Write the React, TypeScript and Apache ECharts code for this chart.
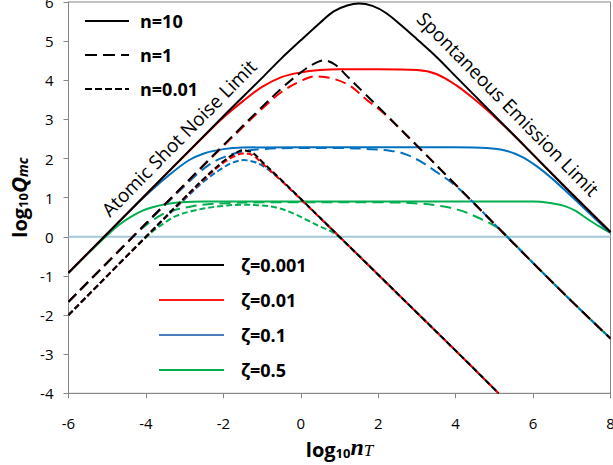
import React, { useEffect, useRef } from "react";
import * as echarts from "echarts";

// ---- axis ranges ----
const X_MIN = -6;
const X_MAX = 8;
const X_STEP = 2;
const Y_MIN = -4;
const Y_MAX = 6;
const Y_STEP = 1;

// ---- legend labels ----
const N_LABELS = ["n=10", "n=1", "n=0.01"];
const ZETA_LABELS = ["ζ=0.001", "ζ=0.01", "ζ=0.1", "ζ=0.5"];

// ---- curves: [log10 nT, log10 Qmc] ----
// n = 10 (solid)
const Z0001_N10 = [[-6,-0.92],[-4,1.08],[-2,3.08],[-1,4.06],[-0.5,4.56],[0,5.02],[0.5,5.47],[0.85,5.76],[1.2,5.91],[1.5,5.96],[1.85,5.9],[2.2,5.72],[2.6,5.4],[3,5.05],[3.5,4.6],[4,4.1],[5,3.1],[6,2.1],[7,1.1],[8,0.12]];
const Z001_N10 = [[-6,-0.92],[-4,1.08],[-2.5,2.57],[-2,3.05],[-1.5,3.46],[-1,3.83],[-0.5,4.08],[0,4.2],[0.5,4.26],[1,4.28],[2,4.28],[3,4.26],[3.5,4.16],[4,3.88],[4.5,3.5],[5,3.07],[5.5,2.6],[6,2.1],[7,1.1],[8,0.12]];
const Z01_N10 = [[-6,-0.92],[-4.5,0.58],[-3.9,1.15],[-3.4,1.58],[-2.9,1.95],[-2.5,2.13],[-2,2.24],[-1.5,2.28],[0,2.29],[4,2.29],[4.8,2.27],[5.3,2.2],[5.7,2.05],[6.1,1.8],[6.5,1.48],[6.9,1.12],[7.3,0.75],[7.7,0.37],[8,0.1]];
const Z05_N10 = [[-6,-0.92],[-5.5,-0.43],[-5,0.04],[-4.7,0.3],[-4.4,0.5],[-4.1,0.66],[-3.8,0.76],[-3.5,0.83],[-3.1,0.88],[-2.5,0.9],[6,0.9],[6.4,0.87],[6.8,0.79],[7.1,0.66],[7.4,0.46],[7.7,0.27],[8,0.1]];
// n = 1 (long dash)
const Z0001_N1 = [[-6,-1.66],[-4,0.34],[-2,2.34],[-1,3.32],[-0.5,3.79],[0,4.2],[0.3,4.4],[0.6,4.51],[0.9,4.39],[1.2,4.1],[1.6,3.71],[2,3.32],[3,2.33],[4,1.33],[5,0.33],[6,-0.67],[7,-1.65],[8,-2.6]];
const Z001_N1 = [[-6,-1.66],[-4,0.34],[-2,2.32],[-1.5,2.8],[-1,3.27],[-0.5,3.7],[0,3.98],[0.37,4.1],[0.8,4.05],[1.27,3.86],[1.7,3.5],[2.13,3.17],[2.5,2.82],[3,2.33],[4,1.33],[5,0.33],[6,-0.67],[7,-1.65],[8,-2.6]];
const Z01_N1 = [[-6,-1.66],[-4,0.33],[-3.5,0.82],[-3,1.3],[-2.7,1.58],[-2.4,1.82],[-2.1,1.99],[-1.6,2.16],[-1,2.24],[0,2.27],[1,2.27],[1.8,2.24],[2.3,2.2],[2.65,2.13],[3.05,1.95],[3.5,1.66],[3.9,1.38],[4.3,1.03],[5,0.33],[6,-0.67],[7,-1.65],[8,-2.6]];
const Z05_N1 = [[-6,-1.66],[-4.5,-0.17],[-4.2,0.13],[-3.9,0.37],[-3.6,0.56],[-3.3,0.67],[-2.8,0.78],[-2.4,0.83],[-1.9,0.86],[-1,0.88],[2,0.88],[3.05,0.85],[3.65,0.78],[4.1,0.68],[4.6,0.48],[5.05,0.25],[5.33,0.01],[6,-0.67],[7,-1.65],[8,-2.6]];
// n = 0.01 (short dash)
const Z0001_N001 = [[-6,-2.0],[-4,0.0],[-3,1.0],[-2.5,1.49],[-2,1.93],[-1.75,2.1],[-1.5,2.21],[-1.25,2.15],[-1,1.92],[-0.5,1.45],[0,0.97],[1,0.0],[2,-0.97],[3,-1.94],[4,-2.91],[5.11,-4.0]];
const Z001_N001 = [[-6,-2.0],[-4,0.0],[-3,0.99],[-2.5,1.47],[-2,1.89],[-1.75,2.04],[-1.5,2.13],[-1.25,2.09],[-1,1.88],[-0.5,1.43],[0,0.96],[1,0.0],[2,-0.97],[3,-1.94],[4,-2.91],[5.11,-4.0]];
const Z01_N001 = [[-6,-2.0],[-4,0.0],[-3,0.96],[-2.5,1.42],[-2,1.77],[-1.75,1.9],[-1.48,1.96],[-1.2,1.91],[-0.9,1.76],[-0.6,1.52],[-0.3,1.25],[0,0.96],[1,0.0],[2,-0.97],[3,-1.94],[4,-2.91],[5.11,-4.0]];
const Z05_N001 = [[-6,-2.0],[-4.3,-0.3],[-4,-0.02],[-3.8,0.16],[-3.5,0.37],[-3.2,0.54],[-2.8,0.66],[-2.4,0.74],[-2,0.79],[-1.5,0.82],[-1,0.8],[-0.6,0.74],[-0.2,0.6],[0.2,0.41],[0.5,0.26],[0.8,0.13],[1.05,-0.06],[2,-0.97],[3,-1.94],[4,-2.91],[5.11,-4.0]];
// reference line
const ZERO_LINE = [[-6,0],[8,0]];

const BLACK = "#000000";
const RED = "#ff0000";
const BLUE = "#0070c0";
const GREEN = "#00b050";
const LONG: number[] = [11, 6];
const SHORT: number[] = [6, 3];
const FONT = '"Open Sans", "Noto Sans", "DejaVu Sans", sans-serif';

function curve(name: string, data: number[][], color: string, dash: any, z: number) {
  return {
    name,
    type: "line",
    data,
    symbol: "none",
    showSymbol: false,
    smooth: 0.35,
    silent: true,
    z,
    lineStyle: { color, width: 2, type: dash },
  };
}

function legendSeries(name: string, color: string, dash: any) {
  return {
    name,
    type: "line",
    data: [],
    symbol: "none",
    showSymbol: false,
    silent: true,
    itemStyle: { color },
    lineStyle: { color, width: 2.5, type: dash },
  };
}

export default function App() {
  const ref = useRef<HTMLDivElement>(null);

  useEffect(() => {
    if (!ref.current) return;
    const chart = echarts.init(ref.current, undefined, { renderer: "svg" });

    const series: any[] = [
      {
        name: "zero",
        type: "line",
        data: ZERO_LINE,
        symbol: "none",
        silent: true,
        z: 1,
        lineStyle: { color: "#a2c8d8", width: 2 },
      },
      curve("ζ=0.5 n=0.01", Z05_N001, GREEN, SHORT, 2),
      curve("ζ=0.5 n=1", Z05_N1, GREEN, LONG, 2),
      curve("ζ=0.5 n=10", Z05_N10, GREEN, "solid", 2),
      curve("ζ=0.1 n=0.01", Z01_N001, BLUE, SHORT, 3),
      curve("ζ=0.1 n=1", Z01_N1, BLUE, LONG, 3),
      curve("ζ=0.1 n=10", Z01_N10, BLUE, "solid", 3),
      curve("ζ=0.01 n=0.01", Z001_N001, RED, SHORT, 4),
      curve("ζ=0.01 n=1", Z001_N1, RED, LONG, 4),
      curve("ζ=0.01 n=10", Z001_N10, RED, "solid", 4),
      curve("ζ=0.001 n=0.01", Z0001_N001, BLACK, SHORT, 5),
      curve("ζ=0.001 n=1", Z0001_N1, BLACK, LONG, 5),
      curve("ζ=0.001 n=10", Z0001_N10, BLACK, "solid", 5),
      legendSeries(N_LABELS[0], BLACK, "solid"),
      legendSeries(N_LABELS[1], BLACK, [12, 6]),
      legendSeries(N_LABELS[2], BLACK, [7, 3]),
      legendSeries(ZETA_LABELS[0], BLACK, "solid"),
      legendSeries(ZETA_LABELS[1], "#ff1a1a", "solid"),
      legendSeries(ZETA_LABELS[2], "#4a7ebb", "solid"),
      legendSeries(ZETA_LABELS[3], GREEN, "solid"),
    ];

    const legendText = {
      fontFamily: FONT,
      fontSize: 18,
      fontWeight: "bold",
      color: "#000",
      lineHeight: 18,
    };

    chart.setOption({
      animation: false,
      backgroundColor: "#ffffff",
      grid: {
        left: 68.5,
        right: 2.5,
        top: 2,
        bottom: 71.7,
        show: true,
        borderColor: "#868686",
        borderWidth: 1,
        backgroundColor: "transparent",
        outerBoundsMode: "none",
      },
      legend: [
        {
          data: N_LABELS,
          orient: "vertical",
          left: 84,
          top: 12,
          padding: 0,
          itemWidth: 44,
          itemHeight: 14,
          itemGap: 16,
          selectedMode: false,
          itemStyle: { opacity: 0 },
          textStyle: { ...legendText, padding: [0, 0, 0, 6] },
        },
        {
          data: ZETA_LABELS,
          orient: "vertical",
          left: 158,
          top: 256,
          padding: 0,
          itemWidth: 65,
          itemHeight: 14,
          itemGap: 17,
          selectedMode: false,
          itemStyle: { opacity: 0 },
          textStyle: { ...legendText, padding: [0, 0, 0, 12] },
        },
      ],
      xAxis: {
        type: "value",
        min: X_MIN,
        max: X_MAX,
        interval: X_STEP,
        name: "{a|log}{b|10}{n|n}{t|T}",
        nameLocation: "middle",
        nameGap: 46,
        nameTextStyle: {
          rich: {
            a: { fontFamily: FONT, fontSize: 20, fontWeight: "bold", color: "#000", lineHeight: 20, verticalAlign: "bottom" },
            b: { fontFamily: FONT, fontSize: 13, fontWeight: "bold", color: "#000", lineHeight: 6, verticalAlign: "bottom" },
            n: { fontFamily: '"Liberation Serif", "DejaVu Serif", serif', fontSize: 24, fontStyle: "italic", fontWeight: "bold", color: "#000", lineHeight: 20, verticalAlign: "bottom" },
            t: { fontFamily: '"Liberation Serif", "DejaVu Serif", serif', fontSize: 17, fontStyle: "italic", color: "#000", lineHeight: 8, verticalAlign: "bottom" },
          },
        },
        axisLine: { show: true, onZero: false, lineStyle: { color: "#868686", width: 1 } },
        axisTick: { show: true, inside: false, length: 5, lineStyle: { color: "#868686" } },
        splitLine: { show: false },
        axisLabel: { fontFamily: FONT, fontSize: 15, color: "#000", margin: 22 },
      },
      yAxis: {
        type: "value",
        min: Y_MIN,
        max: Y_MAX,
        interval: Y_STEP,
        name: "{a|log}{b|10}{q|Q}{s|mc}",
        nameLocation: "middle",
        nameRotate: 90,
        nameGap: 34,
        nameTextStyle: {
          rich: {
            a: { fontFamily: FONT, fontSize: 20, fontWeight: "bold", color: "#000", lineHeight: 20, verticalAlign: "bottom" },
            b: { fontFamily: FONT, fontSize: 13, fontWeight: "bold", color: "#000", lineHeight: 6, verticalAlign: "bottom" },
            q: { fontFamily: FONT, fontSize: 22, fontStyle: "italic", fontWeight: "bold", color: "#000", lineHeight: 20, verticalAlign: "bottom" },
            s: { fontFamily: FONT, fontSize: 14, fontStyle: "italic", fontWeight: "bold", color: "#000", lineHeight: 6, verticalAlign: "bottom" },
          },
        },
        axisLine: { show: true, onZero: false, lineStyle: { color: "#868686", width: 1 } },
        axisTick: { show: true, inside: false, length: 5, lineStyle: { color: "#868686" } },
        splitLine: { show: false },
        axisLabel: { fontFamily: FONT, fontSize: 15, color: "#000", margin: 15 },
      },
      graphic: [
        {
          type: "text",
          x: 179,
          y: 138,
          rotation: 0.792,
          silent: true,
          z: 10,
          style: {
            text: "Atomic Shot Noise Limit",
            fontFamily: FONT,
            fontSize: 19,
            fill: "#000",
            align: "center",
            verticalAlign: "middle",
            textAlign: "center",
            textVerticalAlign: "middle",
          },
        },
        {
          type: "text",
          x: 508,
          y: 104,
          rotation: -0.792,
          silent: true,
          z: 10,
          style: {
            text: "Spontaneous Emission Limit",
            fontFamily: FONT,
            fontSize: 19,
            fill: "#000",
            align: "center",
            verticalAlign: "middle",
            textAlign: "center",
            textVerticalAlign: "middle",
          },
        },
      ],
      series,
    });

    return () => chart.dispose();
  }, []);

  return (
    <div
      ref={ref}
      style={{ position: "fixed", left: 0, top: 0, width: 613, height: 465, background: "#fff" }}
    />
  );
}
